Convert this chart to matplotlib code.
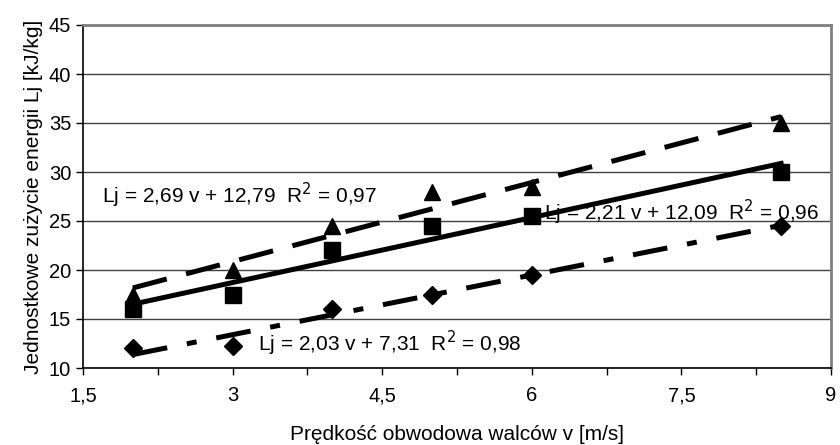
import numpy as np
import matplotlib.pyplot as plt
from matplotlib.ticker import MultipleLocator, FuncFormatter

plt.rcParams['font.family'] = ['Liberation Sans', 'DejaVu Sans']

v = [2, 3, 4, 5, 6, 8.5]
lj_tri = [17.5, 20, 24.5, 28, 28.5, 35]
lj_sq = [16, 17.5, 22, 24.5, 25.5, 30]
lj_dia = [12, 12.2, 16, 17.5, 19.5, 24.5]

# trend line coefficients (a, b) as shown on the chart
fit_tri = (2.69, 12.79)
fit_sq = (2.21, 12.09)
fit_dia = (2.03, 7.31)

fig = plt.figure(figsize=(8.4, 4.45), dpi=100)
ax = fig.add_axes([83 / 840, 1 - 368 / 445, 748 / 840, 343 / 445])

xs = np.array([v[0], v[-1]])
ax.plot(xs, fit_tri[0] * xs + fit_tri[1], color='black', lw=3.6, dashes=(7, 4))
ax.plot(xs, fit_sq[0] * xs + fit_sq[1], color='black', lw=3.6)
ax.plot(xs, fit_dia[0] * xs + fit_dia[1], color='black', lw=3.6, dashes=(7, 4, 2, 4))

ax.plot(v, lj_tri, '^', color='black', ms=12, ls='none')
ax.plot(v, lj_sq, 's', color='black', ms=11, ls='none')
ax.plot(v, lj_dia, 'D', color='black', ms=9, ls='none')

ax.set_xlim(1.5, 9)
ax.set_ylim(10, 45)
ax.xaxis.set_major_locator(MultipleLocator(1.5))
ax.xaxis.set_minor_locator(MultipleLocator(0.75))
ax.yaxis.set_major_locator(MultipleLocator(5))
ax.xaxis.set_major_formatter(FuncFormatter(lambda x, p: f"{x:g}".replace('.', ',')))
ax.grid(axis='y', color='#404040', lw=1)
ax.set_axisbelow(True)

for s in ['top', 'right']:
    ax.spines[s].set_color('#808080')
    ax.spines[s].set_linewidth(2)
for s in ['left', 'bottom']:
    ax.spines[s].set_color('black')
    ax.spines[s].set_linewidth(1.2)

ax.tick_params(axis='both', which='major', direction='out', length=5, width=1, labelsize=14.5, colors='black')
ax.tick_params(axis='x', which='minor', direction='out', length=5, width=1)
ax.tick_params(axis='x', pad=8)

ax.set_xlabel('Prędkość obwodowa walców v [m/s]', fontsize=15, labelpad=14)
ax.set_ylabel('Jednostkowe zużycie energii Lj [kJ/kg]', fontsize=15, labelpad=4)

ax.text(1.69, 27.6, 'Lj = 2,69 v + 12,79  R$^2$ = 0,97', fontsize=15, va='center')
ax.text(6.12, 25.9, 'Lj = 2,21 v + 12,09  R$^2$ = 0,96', fontsize=15, va='center')
ax.text(3.25, 12.55, 'Lj = 2,03 v + 7,31  R$^2$ = 0,98', fontsize=15, va='center')

fig.savefig('out.png', dpi=100)
